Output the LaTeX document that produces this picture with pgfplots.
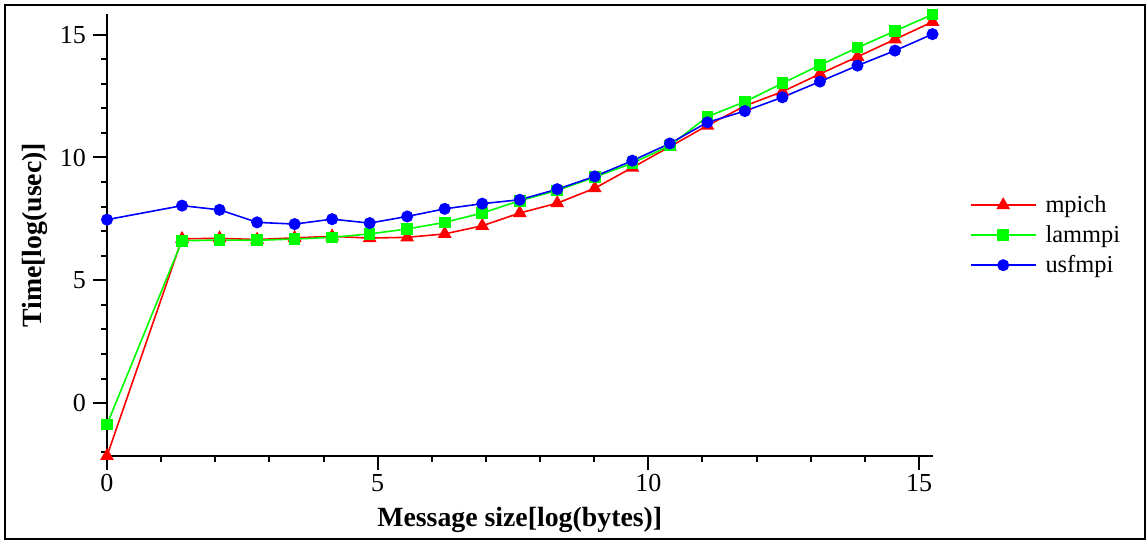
\documentclass[border=0pt]{standalone}
\usepackage{pgfplots}
\usepackage{pgfplotstable}
\usepackage{fontspec}
\setmainfont{Liberation Serif}
\pgfplotsset{compat=1.18}

\definecolor{cred}{RGB}{255,0,0}
\definecolor{cgreen}{RGB}{0,255,0}
\definecolor{cblue}{RGB}{0,0,255}

% x = ln(bytes), y = ln(usec)
\pgfplotstableread{
x        mpich  lammpi usfmpi
0        -2.15  -0.87  7.47
1.3863   6.69   6.61   8.04
2.0794   6.71   6.64   7.87
2.7726   6.66   6.63   7.36
3.4657   6.73   6.68   7.29
4.1589   6.79   6.75   7.49
4.8520   6.72   6.89   7.33
5.5452   6.75   7.09   7.60
6.2383   6.89   7.36   7.91
6.9315   7.22   7.74   8.12
7.6246   7.74   8.24   8.28
8.3178   8.14   8.66   8.71
9.0109   8.75   9.20   9.23
9.7041   9.59   9.77   9.87
10.3972  10.44  10.48  10.57
11.0904  11.30  11.66  11.43
11.7835  12.10  12.27  11.89
12.4766  12.68  13.02  12.45
13.1698  13.40  13.76  13.09
13.8629  14.10  14.47  13.74
14.5561  14.81  15.15  14.35
15.2492  15.52  15.82  15.02
}\data

\begin{document}
\begin{tikzpicture}
\begin{axis}[
  name=ax,
  scale only axis,
  width=412.75pt, height=220.75pt,
  xmin=0, xmax=15.2492, ymin=-2.15, ymax=15.82,
  clip=false,
  axis x line=bottom, axis y line=left,
  axis line style={-, line width=1pt, black},
  xtick={0,5,10,15}, ytick={0,5,10,15},
  minor xtick={1,2,3,4,6,7,8,9,11,12,13,14},
  minor ytick={-2,-1,1,2,3,4,6,7,8,9,11,12,13,14},
  tick align=outside,
  major tick length=7pt, minor tick length=2.8pt,
  every tick/.style={line width=1pt, black},
  /pgf/number format/assume math mode=true,
  ticklabel style={font=\fontsize{13}{15}\selectfont},
  xticklabel style={yshift=1.5pt},
  xlabel={Message size[log(bytes)]},
  ylabel={Time[log(usec)]},
  label style={font=\bfseries\fontsize{13.9}{16}\selectfont},
  xlabel style={anchor=center, at={(axis description cs:0.5,-0.145)}},
  ylabel style={anchor=center, at={(axis description cs:-0.0872,0.5)}},
  legend style={at={(axis description cs:1,0.5)}, anchor=west, xshift=15.5pt,
    draw=none, fill=none, font=\fontsize{12.2}{14}\selectfont,
    row sep=1pt},
  legend cell align=left,
  legend image code/.code={\draw[mark repeat=2,mark phase=2,#1]
    plot coordinates {(0pt,0pt) (16.25pt,0pt) (32.5pt,0pt)};
    \path (35pt,0pt);},
]
\addplot[cred, line width=0.8pt, mark=triangle*, mark size=3.2pt,
  mark options={fill=cred, draw=cred}] table[x=x, y=mpich] {\data};
\addlegendentry{mpich}
\addplot[cgreen, line width=0.8pt, mark=square*, mark size=2.5pt,
  mark options={fill=cgreen, draw=cgreen}] table[x=x, y=lammpi] {\data};
\addlegendentry{lammpi}
\addplot[cblue, line width=0.8pt, mark=*, mark size=2.6pt,
  mark options={fill=cblue, draw=cblue}] table[x=x, y=usfmpi] {\data};
\addlegendentry{usfmpi}
\end{axis}
% outer frame round the whole chart
\draw[line width=1pt, black] ([shift={(-51pt,-41.5pt)}]ax.south west)
  rectangle ([shift={(519pt,225.5pt)}]ax.south west);
\path ([shift={(-53.5pt,-42pt)}]ax.south west)
  rectangle ([shift={(519.5pt,228pt)}]ax.south west);
\end{tikzpicture}
\end{document}
